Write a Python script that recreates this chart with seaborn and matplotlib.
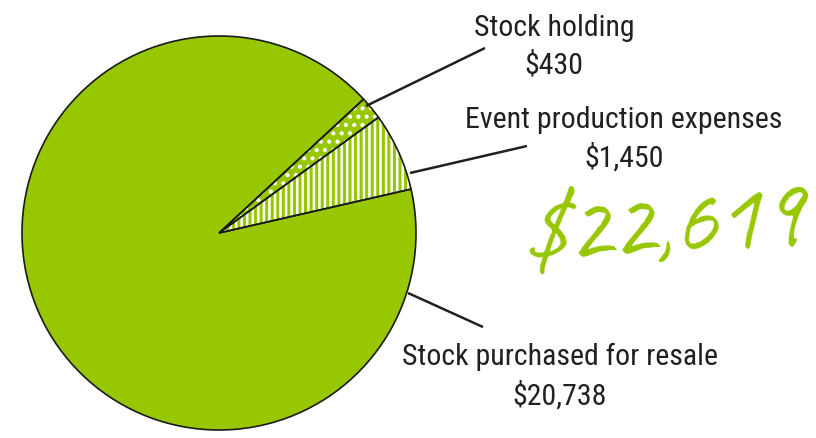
import matplotlib
matplotlib.use("Agg")
import matplotlib.pyplot as plt
import seaborn as sns

# Expense breakdown (values as printed on the chart)
categories = ["Stock purchased for resale", "Event production expenses", "Stock holding"]
values = [20738, 1450, 430]
value_labels = ["$20,738", "$1,450", "$430"]
total_label = "$22,619"
hatches = ["", "|||", ".."]

green = "#97c700"
ink = "#231f20"

sns.set_theme(style="white")
plt.rcParams["font.family"] = ["Roboto Condensed", "Liberation Sans Narrow", "DejaVu Sans"]
plt.rcParams["hatch.linewidth"] = 1.8

fig = plt.figure(figsize=(8.16, 4.38), dpi=100)
ax = fig.add_axes([0, 0, 1, 1])

H = 438  # work in pixel-like coordinates, y measured from the top
center = (219, H - 233)
radius = 197

# filled wedges with white hatching
ax.pie(values, colors=[green] * len(values), startangle=42.8, counterclock=True,
       radius=radius, center=center, hatch=hatches,
       wedgeprops=dict(edgecolor="white", linewidth=0))
# dark outlines on top
ax.pie(values, colors=[green] * len(values), startangle=42.8, counterclock=True,
       radius=radius, center=center,
       wedgeprops=dict(fill=False, edgecolor="#1a1a1a", linewidth=1.2))

ax.set_xlim(0, 816)
ax.set_ylim(0, H)
ax.set_aspect("equal")
ax.axis("off")

# leader lines: (from pie edge, to label)
leaders = [((408, 293), (483, 327)),
           ((410, 173), (527, 146)),
           ((366, 106), (485, 48))]
# label anchors: (x centre, baseline of name, baseline of value)
label_pos = [(560, 365, 405),
             (624, 128, 167),
             (554, 36, 73)]

for cat, val, (p0, p1), (lx, ny, vy) in zip(categories, value_labels, leaders, label_pos):
    ax.plot([p0[0], p1[0]], [H - p0[1], H - p1[1]], color=ink, lw=1.8,
            solid_capstyle="butt")
    ax.text(lx, H - ny, cat, ha="center", va="baseline", fontsize=21.5, color=ink)
    ax.text(lx, H - vy, val, ha="center", va="baseline", fontsize=21.5, color=ink)

ax.text(664, H - 262, total_label, ha="center", va="baseline", fontsize=70,
        color=green, family=["Caveat", "DejaVu Sans"], fontstyle="italic",
        rotation=4)

fig.savefig("out.png", dpi=100)
